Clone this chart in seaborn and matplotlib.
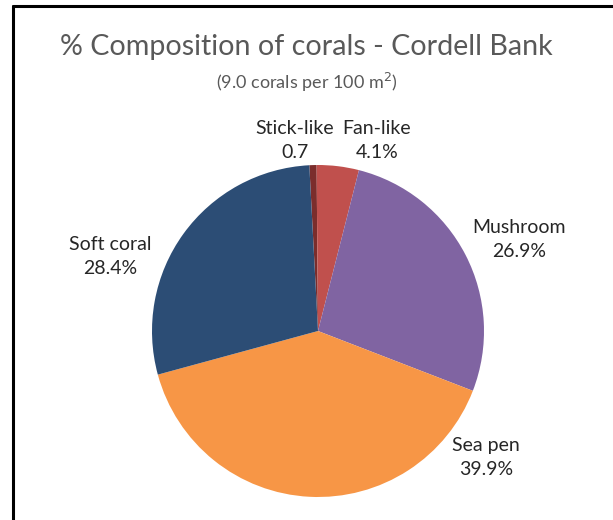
import matplotlib
matplotlib.use("Agg")
import matplotlib.pyplot as plt
import seaborn as sns
from matplotlib.lines import Line2D

# Coral composition data (clockwise from 12 o'clock)
categories = ["Stick-like", "Fan-like", "Mushroom", "Sea pen", "Soft coral"]
percentages = [0.7, 4.1, 26.9, 39.9, 28.4]
value_labels = ["0.7", "4.1%", "26.9%", "39.9%", "28.4%"]

sns.set_theme(style="white")
plt.rcParams["font.family"] = ["Lato", "DejaVu Sans"]

colors = ["#7B2D2C", "#C0504D", "#8064A2", "#F79646", "#2C4D75"]

fig = plt.figure(figsize=(6.13, 5.2), dpi=100)

# pie centred at (318, 331) px, radius ~166 px
cx, cy, r = 318, 520 - 331, 166
ax = fig.add_axes([(cx - r) / 613, (cy - r) / 520, 2 * r / 613, 2 * r / 520])
ax.pie(percentages, colors=colors, startangle=93, counterclock=False,
       radius=1, wedgeprops=dict(linewidth=0))
ax.set_xlim(-1, 1)
ax.set_ylim(-1, 1)
ax.set_aspect("equal")
ax.axis("off")

# label placement (data coords, as Excel arranged them)
label_pos = [(-0.139, 1.145), (0.355, 1.145), (1.211, 0.554), (1.012, -0.762), (-1.253, 0.449)]
for name, val, (lx, ly) in zip(categories, value_labels, label_pos):
    ax.text(lx, ly, f"{name}\n{val}", ha="center", va="center",
            fontsize=14, color="#262626", linespacing=1.5, clip_on=False)

fig.text(0.5, 1 - 47 / 520, "% Composition of corals - Cordell Bank",
         ha="center", va="center", fontsize=20.6, color="#595959")
fig.text(0.5, 1 - 82 / 520, r"(9.0 corals per 100 m$^{2}$)",
         ha="center", va="center", fontsize=13, color="#595959")

# partial black frame (top and left edges visible)
fig.add_artist(Line2D([13 / 613, 13 / 613], [0, 1 - 6 / 520], color="black", lw=2.2,
                      transform=fig.transFigure))
fig.add_artist(Line2D([13 / 613, 1], [1 - 6 / 520, 1 - 6 / 520], color="black", lw=2.2,
                      transform=fig.transFigure))

plt.savefig("out.png", dpi=100)
